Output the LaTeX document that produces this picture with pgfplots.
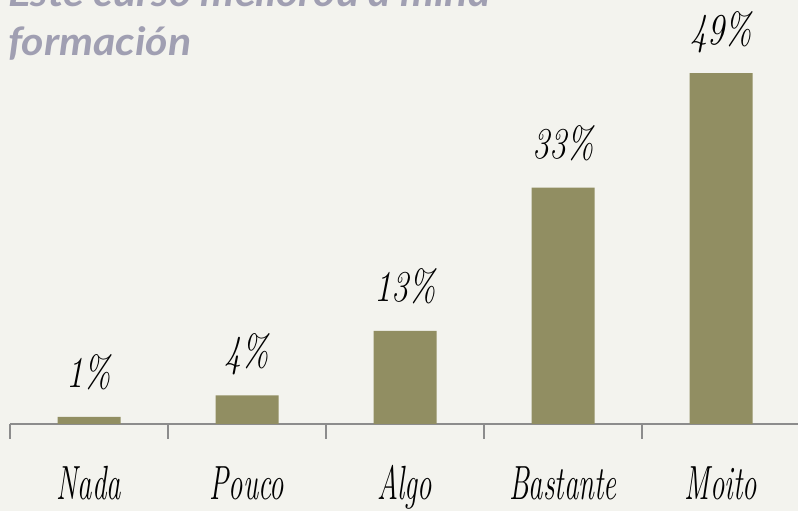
\documentclass[border=0pt]{standalone}
\usepackage{fontspec}
\usepackage{pgfplots}
\pgfplotsset{compat=1.18}
\newfontfamily\titlefont{Lato}
\definecolor{bg}{HTML}{F3F3EE}
\definecolor{barc}{HTML}{918E62}
\definecolor{titc}{HTML}{A09FB2}
\definecolor{axc}{HTML}{8C8C8C}
\newcommand\pct[1]{\fontsize{44}{48}\selectfont\itshape\scalebox{0.78}[1]{#1}}
\newcommand\cat[1]{\fontsize{48}{52}\selectfont\itshape\scalebox{0.6}[1]{#1}}
\begin{document}
\begin{tikzpicture}[x=1pt,y=1pt]
\useasboundingbox (0,0) rectangle (798,511);
\clip (0,0) rectangle (798,511);
\fill[bg] (0,0) rectangle (798,511);
\node[anchor=base west,inner sep=0,text=titc,font=\titlefont\fontsize{39}{44}\selectfont\bfseries\itshape] at (8,504) {\scalebox{1.1}[1]{Este curso mellorou a miña}};
\node[anchor=base west,inner sep=0,text=titc,font=\titlefont\fontsize{39}{44}\selectfont\bfseries\itshape] at (8,455) {\scalebox{1.1}[1]{formación}};
\begin{axis}[
  at={(10pt,87pt)}, anchor=south west,
  scale only axis, width=790pt, height=424pt,
  xmin=-0.5, xmax=4.5, ymin=0, ymax=59.2,
  hide y axis,
  axis x line*=bottom,
  x axis line style={draw=axc, line width=1.5pt},
  xtick={0,1,2,3,4},
  xticklabels={\cat{Nada},\cat{Pouco},\cat{Algo},\cat{Bastante},\cat{Moito}},
  major tick length=0pt,
  minor xtick={-0.5,0.5,1.5,2.5,3.5,4.5},
  minor tick length=15pt,
  tick align=outside,
  minor tick style={draw=axc, line width=1.5pt},
  xticklabel style={anchor=base, yshift=-76pt, inner sep=0pt},
  clip=false,
  ybar, bar width=63pt,
  /pgf/number format/assume math mode=true,
  nodes near coords={\pct{\pgfmathprintnumber{\pgfplotspointmeta}\%}},
  every node near coord/.append style={anchor=base, yshift=29pt, inner sep=0pt, text=black},
]
\addplot[fill=barc, draw=none, bar shift=0pt] coordinates {(0,1) (1,4) (2,13) (3,33) (4,49)};
\end{axis}
\end{tikzpicture}
\end{document}
